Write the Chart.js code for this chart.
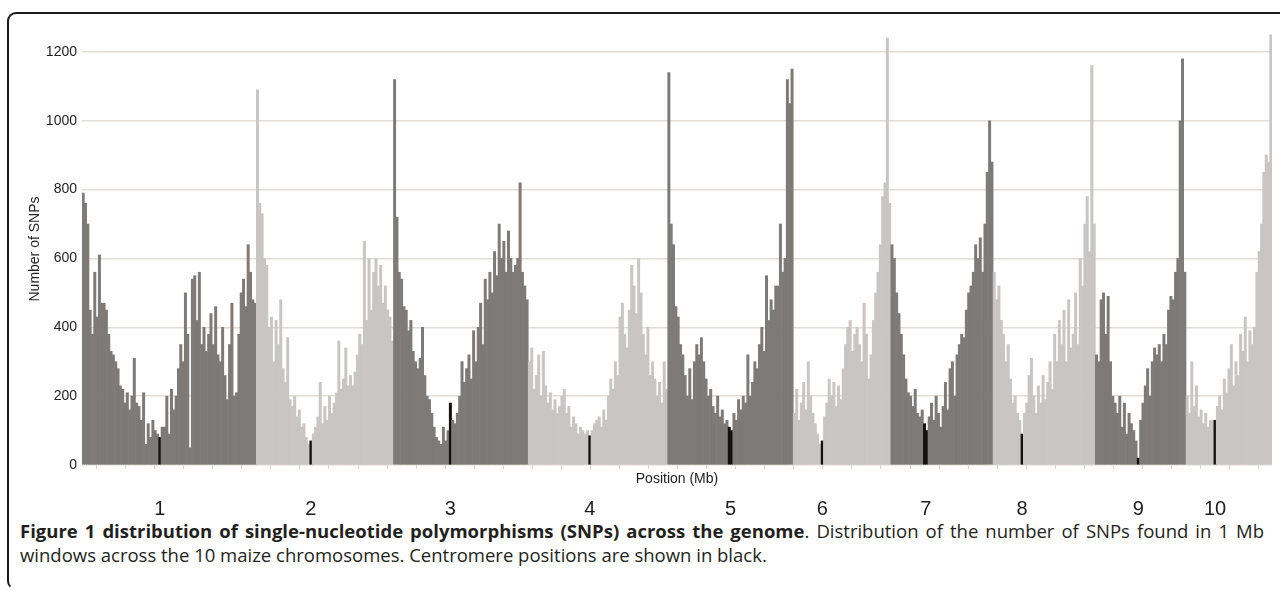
<!DOCTYPE html>
<html>
<head>
<meta charset="utf-8">
<title>SNP distribution across the maize genome</title>
<script src="https://cdn.jsdelivr.net/npm/chart.js@4.4.1/dist/chart.umd.min.js"></script>
<style>
    html, body { margin: 0; padding: 0; background: #fff; width: 1280px; height: 590px; overflow: hidden; }
    .frame {
        position: absolute; left: 7px; top: 12px; width: 1320px; height: 574px;
        border: 2px solid #1b1b1b; border-right: none; border-bottom-color: transparent;
        border-radius: 9px 0 0 9px;
    }
    .plot { position: absolute; left: 0; top: 0; width: 1280px; height: 518px; }
    .caption {
        position: absolute; left: 20px; top: 519px; width: 1244px;
        font-family: 'Open Sans', sans-serif; font-size: 18.5px; line-height: 24px; color: #231f20;
    }
    .caption .l1 { text-align: justify; text-align-last: justify; }
</style>
</head>
<body>
<div class="frame"></div>
<div class="plot"><canvas id="snpChart"></canvas></div>
<div class="caption">
    <div class="l1"><b>Figure 1 distribution of single-nucleotide polymorphisms (SNPs) across the genome</b>. Distribution of the number of SNPs found in 1 Mb</div>
    <div>windows across the 10 maize chromosomes. Centromere positions are shown in black.</div>
</div>
<script>
    // windows, 4 Mb per value
    const BIN_MB = 4;
    const chromNames = ['1', '2', '3', '4', '5', '6', '7', '8', '9', '10'];
    const chromLengthMb = [300, 236, 232, 240, 216, 168, 176, 176, 156, 148];
    const centromereMb = [[132, 136], [92, 96], [96, 100], [104, 108], [104, 112], [48, 52], [56, 64], [48, 52], [72, 76], [48, 52]];
    const yTicks = [0, 200, 400, 600, 800, 1000, 1200];
    const tickStepMb = 50;

    const chr1 = [790, 760, 700, 450, 380, 560, 430, 610, 470, 470, 450, 380, 330, 320, 300, 280, 230, 220, 180, 210,
        160, 200, 310, 180, 170, 130, 210, 60, 120, 80, 130, 100, 90, 80, 110, 110, 200, 90, 220, 160,
        200, 280, 350, 300, 500, 380, 50, 540, 550, 420, 560, 350, 400, 330, 380, 440, 350, 460, 320, 300,
        400, 260, 190, 350, 470, 200, 210, 380, 500, 540, 460, 640, 560, 480, 470];
    const chr2 = [1090, 760, 730, 600, 580, 400, 430, 300, 420, 350, 480, 280, 240, 370, 190, 170, 200, 140, 160, 110,
        120, 80, 60, 70, 90, 110, 140, 240, 120, 170, 130, 200, 150, 180, 210, 360, 220, 250, 340, 230,
        260, 230, 270, 320, 380, 350, 650, 420, 600, 450, 560, 600, 520, 580, 470, 520, 450, 430, 360];
    const chr3 = [1120, 720, 560, 540, 460, 450, 390, 420, 330, 300, 280, 310, 400, 260, 200, 190, 150, 110, 80, 70,
        60, 110, 70, 100, 180, 130, 120, 150, 200, 300, 240, 280, 320, 250, 390, 300, 400, 470, 350, 540,
        480, 560, 500, 620, 550, 700, 600, 650, 560, 680, 600, 560, 580, 600, 820, 560, 520, 480];
    const chr4 = [300, 340, 220, 260, 320, 200, 330, 230, 180, 210, 160, 190, 150, 170, 200, 220, 150, 170, 110, 140,
        120, 90, 110, 100, 90, 100, 85, 100, 120, 130, 140, 110, 160, 130, 200, 250, 220, 300, 260, 430,
        470, 380, 340, 450, 580, 520, 440, 600, 500, 380, 320, 400, 260, 300, 250, 200, 240, 180, 300, 220];
    const chr5 = [1140, 700, 640, 460, 430, 350, 320, 260, 200, 280, 190, 300, 350, 320, 370, 300, 250, 200, 220, 170,
        150, 200, 140, 160, 120, 130, 110, 100, 150, 130, 190, 160, 200, 180, 320, 200, 240, 300, 280, 350,
        400, 330, 550, 420, 480, 450, 520, 520, 700, 560, 600, 1120, 1050, 1150];
    const chr6 = [150, 220, 130, 180, 240, 160, 300, 200, 150, 120, 90, 60, 70, 140, 180, 250, 200, 240, 170, 230,
        190, 280, 350, 400, 420, 330, 380, 400, 350, 300, 470, 380, 250, 320, 420, 500, 560, 640, 780, 820,
        1240, 760];
    const chr7 = [640, 600, 500, 440, 380, 320, 250, 210, 200, 170, 220, 150, 140, 160, 120, 100, 140, 180, 130, 200,
        150, 110, 170, 240, 160, 280, 300, 200, 320, 350, 380, 370, 450, 500, 520, 560, 640, 600, 660, 560,
        700, 850, 1000, 880];
    const chr8 = [560, 480, 520, 420, 380, 300, 350, 250, 180, 200, 150, 130, 90, 150, 180, 260, 310, 200, 150, 230,
        180, 260, 190, 240, 300, 220, 380, 300, 420, 350, 450, 300, 480, 340, 380, 500, 350, 600, 520, 700,
        780, 620, 1160, 700];
    const chr9 = [320, 300, 480, 500, 380, 490, 300, 200, 180, 150, 200, 110, 180, 90, 150, 120, 100, 70, 20, 130,
        180, 230, 280, 200, 300, 340, 320, 350, 300, 380, 350, 450, 490, 480, 560, 600, 1000, 1180, 560];
    const chr10 = [200, 150, 300, 170, 230, 140, 160, 120, 150, 110, 130, 130, 130, 170, 200, 160, 250, 210, 280, 350,
        230, 300, 260, 380, 330, 430, 300, 390, 350, 400, 560, 620, 700, 850, 900, 880, 1250];

    const snpCounts = [chr1, chr2, chr3, chr4, chr5, chr6, chr7, chr8, chr9, chr10];

    const darkGrey = '#7e7a78';
    const lightGrey = '#c9c5c4';
    const centromereColor = '#111111';
    const textColor = '#1e1e1e';
    const fontFamily = "'Liberation Sans', Arial, sans-serif";

    const chromStart = [];
    let genomeMb = 0;
    chromLengthMb.forEach(len => { chromStart.push(genomeMb); genomeMb += len; });

    const points = [];
    const barColors = [];
    snpCounts.forEach((values, c) => {
        const [cenA, cenB] = centromereMb[c];
        values.forEach((v, i) => {
            const mid = i * BIN_MB + BIN_MB / 2;
            points.push({ x: chromStart[c] + mid, y: v });
            if (mid > cenA && mid < cenB) barColors.push(centromereColor);
            else barColors.push(c % 2 === 0 ? darkGrey : lightGrey);
        });
    });
    const chromLabelMb = centromereMb.map((s, c) => chromStart[c] + (s[0] + s[1]) / 2);

    new Chart(document.getElementById('snpChart'), {
        type: 'bar',
        data: {
            datasets: [{
                data: points,
                backgroundColor: barColors,
                borderWidth: 0,
                barPercentage: 1,
                categoryPercentage: 1,
            }],
        },
        options: {
            responsive: true,
            maintainAspectRatio: false,
            animation: false,
            layout: { padding: { left: 18, right: 8, top: 33, bottom: 3 } },
            plugins: { legend: { display: false }, tooltip: { enabled: false } },
            scales: {
                x: {
                    type: 'linear',
                    min: 0,
                    max: genomeMb,
                    offset: false,
                    border: { display: false },
                    grid: { drawOnChartArea: false, drawTicks: true, tickLength: 4, color: '#d8d4d0' },
                    ticks: { display: false },
                    afterBuildTicks: axis => {
                        const t = [];
                        for (let v = 0; v <= genomeMb; v += tickStepMb) t.push({ value: v });
                        axis.ticks = t;
                    },
                    afterFit: s => { s.height = 23; },
                    title: {
                        display: true,
                        text: 'Position (Mb)',
                        color: textColor,
                        font: { family: fontFamily, size: 14 },
                        padding: { top: 4, bottom: 0 },
                    },
                },
                chrom: {
                    type: 'linear',
                    axis: 'x',
                    position: 'bottom',
                    weight: 1,
                    min: 0,
                    max: genomeMb,
                    offset: false,
                    border: { display: false },
                    grid: { display: false },
                    ticks: {
                        autoSkip: false,
                        maxRotation: 0,
                        padding: 1,
                        color: textColor,
                        font: { family: fontFamily, size: 20 },
                        callback: (v, i) => chromNames[i],
                    },
                    afterBuildTicks: axis => { axis.ticks = chromLabelMb.map(v => ({ value: v })); },
                    afterFit: s => { s.height = 27; },
                },
                y: {
                    min: 0,
                    max: 1255,
                    border: { display: false },
                    grid: { color: '#e2ddd8', lineWidth: 1.5, drawTicks: false },
                    ticks: {
                        padding: 5,
                        color: textColor,
                        font: { family: fontFamily, size: 14 },
                        callback: v => String(v),
                    },
                    afterBuildTicks: axis => { axis.ticks = yTicks.map(v => ({ value: v })); },
                    afterFit: s => { s.width = 64; },
                    title: {
                        display: true,
                        text: 'Number of SNPs',
                        color: textColor,
                        font: { family: fontFamily, size: 14 },
                        padding: { top: 9, bottom: 0 },
                    },
                },
            },
        },
    });
</script>
</body>
</html>
